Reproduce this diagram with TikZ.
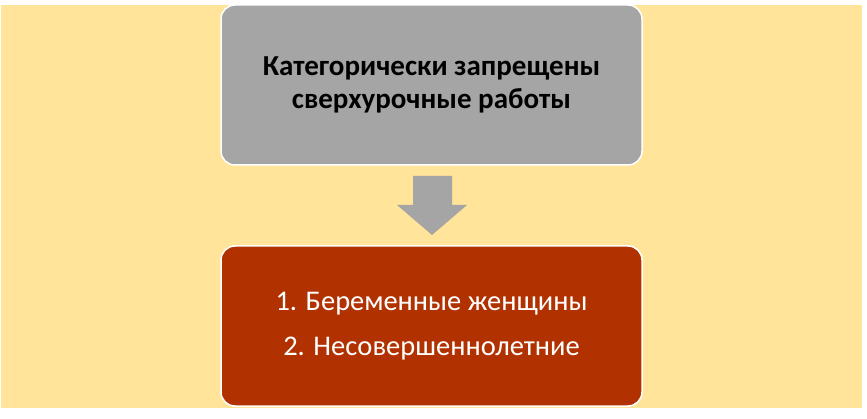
\documentclass[tikz,border=0pt]{standalone}
\usepackage{fontspec}
\setmainfont{Carlito}
\definecolor{bgyellow}{HTML}{FFE499}
\definecolor{boxgray}{HTML}{A5A5A5}
\definecolor{boxred}{HTML}{B13200}
\begin{document}
\begin{tikzpicture}[x=1pt,y=-1pt,every path/.style={>=latex},
  panel/.style={draw=white,line width=1.5pt,rounded corners=14pt,minimum width=421pt,minimum height=160pt,align=center}]
\useasboundingbox (0,0) rectangle (867,419);
\fill[bgyellow] (1,5) rectangle (862,408);
\node[panel,fill=boxgray,font=\fontsize{29}{33}\selectfont\bfseries] (top) at (431.5,85) {Категорически запрещены\\сверхурочные работы};
\node[panel,fill=boxred,text=white,font=\fontsize{28.5}{45}\selectfont] (bottom) at (431.5,326) {1. Беременные женщины\\2. Несовершеннолетние};
\coordinate (tip) at (432,235);
\fill[boxgray] (413,176) -- (452,176) -- (452,205) -- (467,205) -- (tip) -- (397,205) -- (413,205) -- cycle;
\end{tikzpicture}
\end{document}
